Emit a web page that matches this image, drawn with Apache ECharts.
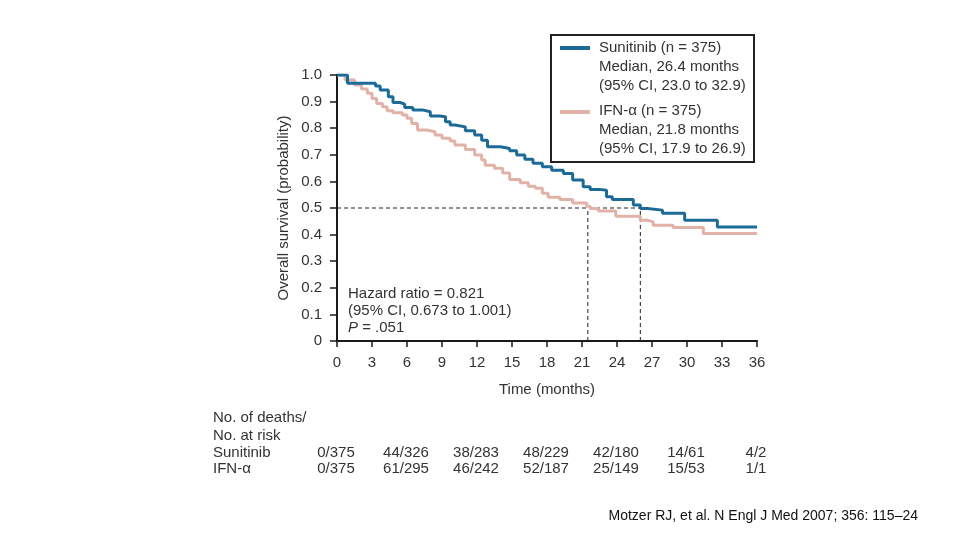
<!DOCTYPE html>
<html><head><meta charset="utf-8">
<script src="https://cdn.jsdelivr.net/npm/echarts@6/dist/echarts.min.js"></script>
<style>html,body{margin:0;padding:0;background:#fff}#c{width:960px;height:540px}</style>
</head><body><div id="c"></div>
<script>
// Kaplan-Meier estimates (time in months, survival probability)
const sunitinibT = [0, 0.9, 3.3, 3.7, 4.4, 4.8, 5.4, 5.8, 6.5, 7.4, 8.0, 8.8, 9.3, 9.7, 10.1, 11.0, 11.8, 12.4, 12.9, 14.0, 14.8, 15.4, 16.1, 16.8, 17.6, 18.4, 19.4, 20.2, 21.1, 21.7, 22.5, 23.1, 23.6, 25.4, 26.0, 26.6, 27.9, 29.8, 32.6, 36];
const sunitinibS = [1.0, 0.969, 0.959, 0.944, 0.918, 0.897, 0.89, 0.878, 0.868, 0.862, 0.846, 0.843, 0.824, 0.812, 0.805, 0.79, 0.774, 0.755, 0.73, 0.724, 0.715, 0.699, 0.683, 0.668, 0.655, 0.642, 0.63, 0.605, 0.58, 0.57, 0.567, 0.542, 0.532, 0.511, 0.498, 0.492, 0.48, 0.454, 0.429, 0.429];
const ifnT = [0, 0.7, 1.5, 2.1, 2.6, 3.0, 3.4, 3.9, 4.3, 4.8, 5.6, 6.0, 6.4, 6.9, 7.7, 8.4, 9.0, 9.7, 10.1, 11.0, 11.8, 12.4, 12.7, 13.5, 14.2, 14.8, 15.7, 16.4, 17.0, 17.6, 18.1, 19.1, 20.2, 21.4, 21.7, 22.4, 23.9, 26.0, 26.6, 27.1, 28.8, 31.4, 36];
const ifnS = [1.0, 0.981, 0.962, 0.947, 0.931, 0.912, 0.893, 0.881, 0.866, 0.858, 0.85, 0.837, 0.818, 0.793, 0.787, 0.774, 0.762, 0.752, 0.737, 0.72, 0.699, 0.68, 0.661, 0.649, 0.632, 0.607, 0.595, 0.582, 0.574, 0.555, 0.54, 0.532, 0.519, 0.507, 0.498, 0.489, 0.469, 0.454, 0.448, 0.435, 0.427, 0.404, 0.404];

const medianLevel = 0.5;
const medianIfnDrawn = 21.5;
const medianSunitinibDrawn = 26.0;

const legendSunitinib = ['Sunitinib (n = 375)', 'Median, 26.4 months', '(95% CI, 23.0 to 32.9)'];
const legendIfn = ['IFN-\u03b1 (n = 375)', 'Median, 21.8 months', '(95% CI, 17.9 to 26.9)'];
const hazardLines = ['Hazard ratio = 0.821', '(95% CI, 0.673 to 1.001)', '{i|P} = .051'];

const riskHeader = ['No. of deaths/', 'No. at risk'];
const riskTimes = [0, 6, 12, 18, 24, 30, 36];
const riskSunitinib = ['0/375', '44/326', '38/283', '48/229', '42/180', '14/61', '4/2'];
const riskIfn = ['0/375', '61/295', '46/242', '52/187', '25/149', '15/53', '1/1'];
const citation = 'Motzer RJ, et al. N Engl J Med 2007; 356: 115\u201324';

const FONT = 'Liberation Sans, Arial, Helvetica, sans-serif';
const TXT = '#333';
const BLUE = '#1c6b96';
const PINK = '#e0b2a8';

const zip = (t, s) => t.map((v, i) => [v, s[i]]);
const dash = { color: '#222', width: 1, type: [4, 3] };

const chart = echarts.init(document.getElementById('c'), null, { renderer: 'canvas' });
chart.setOption({
  animation: false,
  backgroundColor: '#fff',
  grid: { left: 337, right: 203, top: 75, bottom: 199, containLabel: false },
  xAxis: {
    type: 'value', min: 0, max: 36, interval: 3,
    name: 'Time (months)', nameLocation: 'middle', nameGap: 41,
    nameTextStyle: { fontSize: 15, color: TXT, fontFamily: FONT },
    axisLine: { show: true, onZero: false, lineStyle: { color: '#1a1a1a', width: 2 } },
    axisTick: { show: true, length: 6, lineStyle: { color: '#1a1a1a', width: 1.5 } },
    axisLabel: { margin: 14, fontSize: 15, color: TXT, fontFamily: FONT },
    splitLine: { show: false }
  },
  yAxis: {
    type: 'value', min: 0, max: 1, interval: 0.1,
    name: 'Overall survival (probability)', nameLocation: 'middle', nameGap: 46,
    nameTextStyle: { fontSize: 15, color: TXT, fontFamily: FONT },
    axisLine: { show: true, lineStyle: { color: '#1a1a1a', width: 2 } },
    axisTick: { show: true, length: 7, lineStyle: { color: '#1a1a1a', width: 1.5 } },
    axisLabel: { margin: 15, fontSize: 15, color: TXT, fontFamily: FONT,
      formatter: v => (Math.abs(v) < 1e-9 ? '0' : v.toFixed(1)) },
    splitLine: { show: false }
  },
  series: [
    { type: 'line', silent: true, symbol: 'none', lineStyle: dash,
      data: [[0, medianLevel], [medianSunitinibDrawn, medianLevel]] },
    { type: 'line', silent: true, symbol: 'none', lineStyle: dash,
      data: [[medianIfnDrawn, 0], [medianIfnDrawn, medianLevel]] },
    { type: 'line', silent: true, symbol: 'none', lineStyle: dash,
      data: [[medianSunitinibDrawn, 0], [medianSunitinibDrawn, medianLevel]] },
    { name: 'IFN-\u03b1', type: 'line', step: 'end', symbol: 'none', silent: true,
      lineStyle: { color: PINK, width: 3 }, data: zip(ifnT, ifnS) },
    { name: 'Sunitinib', type: 'line', step: 'end', symbol: 'none', silent: true,
      lineStyle: { color: BLUE, width: 3 }, data: zip(sunitinibT, sunitinibS) }
  ]
});

const textStyle = (text, x, y, extra) => Object.assign({
  text, x, y, fill: TXT, fontSize: 15, fontFamily: FONT, verticalAlign: 'middle'
}, extra || {});

const graphics = [
  { type: 'rect', shape: { x: 551, y: 35, width: 203, height: 127 },
    style: { fill: 'none', stroke: '#222', lineWidth: 2 } },
  { type: 'line', shape: { x1: 560, y1: 48, x2: 590, y2: 48 }, style: { stroke: BLUE, lineWidth: 4 } },
  { type: 'line', shape: { x1: 560, y1: 112, x2: 590, y2: 112 }, style: { stroke: PINK, lineWidth: 4 } },
  { type: 'text', style: textStyle(legendSunitinib.join('\n'), 599, 67, { lineHeight: 19 }) },
  { type: 'text', style: textStyle(legendIfn.join('\n'), 599, 130, { lineHeight: 19 }) },
  { type: 'text', style: textStyle(hazardLines.join('\n'), 348, 311, { lineHeight: 17,
      rich: { i: { fontStyle: 'italic', fontSize: 15, fontFamily: FONT, fill: TXT } } }) },
  { type: 'text', style: textStyle(riskHeader[0], 213, 418) },
  { type: 'text', style: textStyle(riskHeader[1], 213, 436) },
  { type: 'text', style: textStyle('Sunitinib', 213, 453) },
  { type: 'text', style: textStyle('IFN-\u03b1', 213, 469) },
  { type: 'text', style: textStyle(citation, 918, 516, { align: 'right', fill: '#111', fontSize: 14 }) }
];
riskTimes.forEach((t, i) => {
  const px = chart.convertToPixel({ xAxisIndex: 0 }, t) - 1;
  graphics.push({ type: 'text', style: textStyle(riskSunitinib[i], px, 453, { align: 'center' }) });
  graphics.push({ type: 'text', style: textStyle(riskIfn[i], px, 469, { align: 'center' }) });
});
chart.setOption({ graphic: graphics });
</script>
</body></html>
